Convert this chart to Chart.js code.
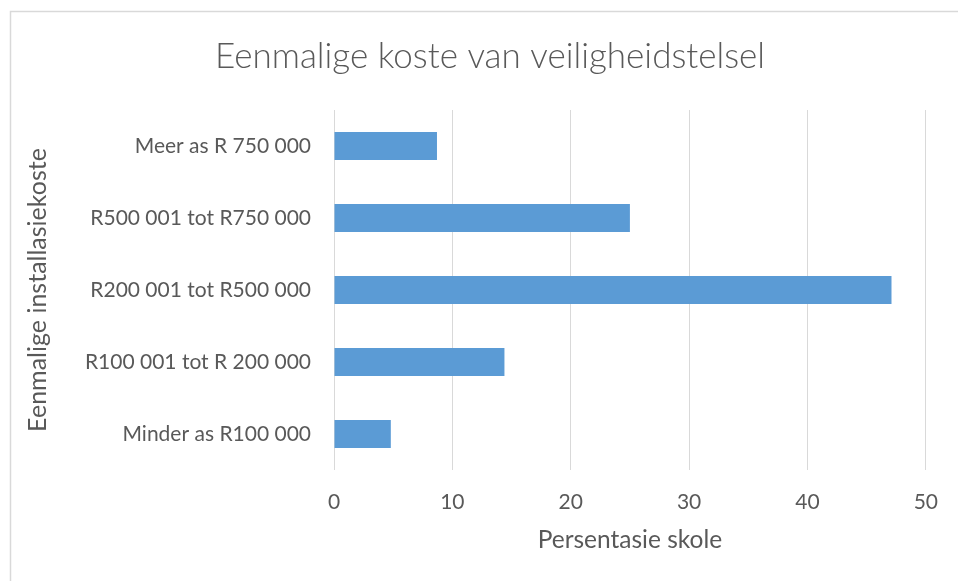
<!DOCTYPE html>
<html>
<head>
<meta charset="utf-8">
<script src="https://cdn.jsdelivr.net/npm/chart.js@4"></script>
<style>
  html, body { margin: 0; padding: 0; background: #fff; }
  #wrap { position: relative; width: 958px; height: 581px; }
</style>
</head>
<body>
<div id="wrap"><canvas id="c" width="958" height="581"></canvas></div>
<script>
const chartTitle = "Eenmalige koste van veiligheidstelsel";
const categories = [
  "Meer as R 750 000",
  "R500 001 tot R750 000",
  "R200 001 tot R500 000",
  "R100 001 tot R 200 000",
  "Minder as R100 000"
];
const percentages = [8.7, 25.0, 47.1, 14.4, 4.8];
const xTitle = "Persentasie skole";
const yTitle = "Eenmalige installasiekoste";
const xMin = 0, xMax = 50, xStep = 10;

const textColor = "#595959";
const gridColor = "#D9D9D9";
const barColor = "#5B9BD5";
const fontFamily = "Lato, 'Open Sans', sans-serif";

const borderPlugin = {
  id: 'frame',
  beforeDraw(chart) {
    const ctx = chart.ctx;
    ctx.save();
    ctx.fillStyle = '#fff';
    ctx.fillRect(0, 0, chart.width, chart.height);
    ctx.strokeStyle = gridColor;
    ctx.lineWidth = 1.5;
    ctx.beginPath();
    ctx.moveTo(10.5, chart.height);
    ctx.lineTo(10.5, 11.5);
    ctx.lineTo(chart.width, 11.5);
    ctx.stroke();
    ctx.restore();
  }
};

new Chart(document.getElementById('c'), {
  type: 'bar',
  data: {
    labels: categories,
    datasets: [{
      label: xTitle,
      data: percentages,
      backgroundColor: barColor,
      borderWidth: 0,
      categoryPercentage: 1.0,
      barPercentage: 0.39
    }]
  },
  options: {
    indexAxis: 'y',
    responsive: false,
    animation: false,
    devicePixelRatio: 1,
    layout: { padding: { left: 22, right: 0, top: 0, bottom: 0 } },
    plugins: {
      legend: { display: false },
      tooltip: { enabled: false },
      title: {
        display: true,
        text: chartTitle,
        color: textColor,
        font: { family: fontFamily, size: 35, weight: '300' },
        padding: { top: 36, bottom: 32 }
      }
    },
    scales: {
      x: {
        type: 'linear',
        min: xMin,
        max: xMax,
        ticks: {
          stepSize: xStep,
          color: textColor,
          font: { family: fontFamily, size: 21 },
          padding: 20,
          maxRotation: 0
        },
        grid: { color: gridColor, lineWidth: 1, drawTicks: false },
        border: { display: false },
        title: {
          display: true,
          text: xTitle,
          color: textColor,
          font: { family: fontFamily, size: 24.5 },
          padding: { top: 26, bottom: 26 }
        },
        afterFit(scale) { scale.height = 111; }
      },
      y: {
        type: 'category',
        position: 'left',
        ticks: {
          color: textColor,
          font: { family: fontFamily, size: 21 },
          padding: 23
        },
        grid: { display: false, drawTicks: false },
        border: { display: false },
        title: {
          display: true,
          text: yTitle,
          color: textColor,
          font: { family: fontFamily, size: 25 },
          padding: { top: 1, bottom: 1 }
        },
        afterFit(scale) { scale.width = 312; }
      },
      yRight: {
        type: 'category',
        position: 'right',
        display: true,
        ticks: { display: false },
        grid: { display: false, drawTicks: false },
        border: { display: false },
        afterFit(scale) { scale.width = 29; }
      }
    }
  },
  plugins: [borderPlugin]
});
</script>
</body>
</html>
